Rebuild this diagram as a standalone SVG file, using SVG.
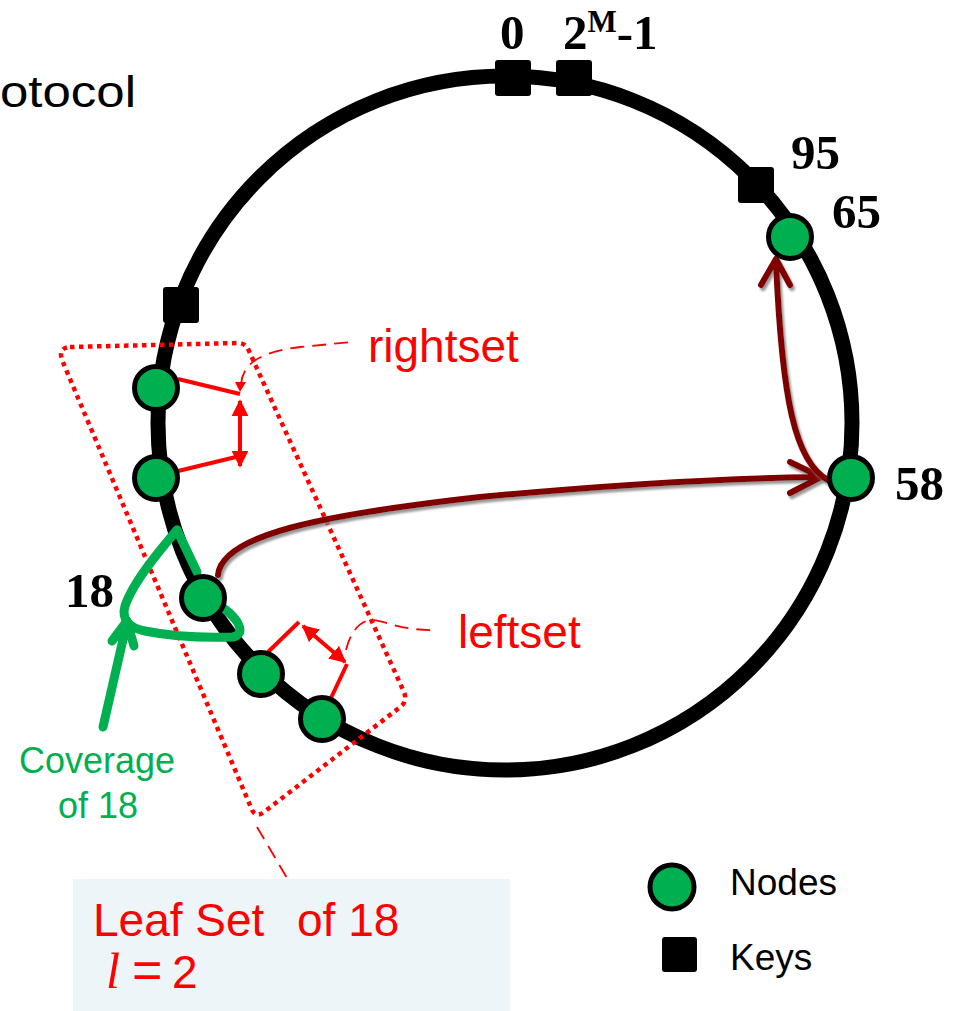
<svg xmlns="http://www.w3.org/2000/svg" width="961" height="1011" viewBox="0 0 961 1011">
  <style>
    .ring { fill: none; stroke: #000; stroke-width: 15; }
    .key { fill: #000; }
    .node { fill: #00B050; stroke: #000; stroke-width: 5; }
    .num { font-family: "Liberation Serif", "Times New Roman", serif; font-weight: bold; font-size: 49px; fill: #000; }
    .red { font-family: "Liberation Sans", Arial, sans-serif; font-size: 46px; fill: #FF0000; }
    .green { font-family: "Liberation Sans", Arial, sans-serif; font-size: 36px; fill: #00B050; }
    .label { font-family: "Liberation Sans", Arial, sans-serif; font-size: 37px; fill: #000; }
    .title { font-family: "Liberation Sans", Arial, sans-serif; font-size: 45px; fill: #000; }
    .dotted { fill: none; stroke: #FF0000; stroke-width: 4.5; stroke-dasharray: 4.5 4.5; }
    .callout { fill: none; stroke: #FF0000; stroke-width: 1.8; stroke-dasharray: 14 8; }
    .redline { fill: none; stroke: #FF0000; stroke-width: 4; }
    .cover { fill: none; stroke: #00B050; stroke-width: 9; stroke-linecap: round; stroke-linejoin: round; }
    .route { fill: none; stroke: #800000; stroke-width: 6; stroke-linecap: round; stroke-linejoin: round; filter: url(#shadow); }
  </style>
  <defs>
    <filter id="shadow" x="-10%" y="-10%" width="120%" height="130%">
      <feDropShadow dx="2" dy="3" stdDeviation="1" flood-color="#808080" flood-opacity="0.8"/>
    </filter>
    <marker id="tri" viewBox="0 0 10 10" refX="9" refY="5" markerWidth="4.2" markerHeight="4.2" orient="auto-start-reverse" markerUnits="strokeWidth">
      <path d="M0,0 L10,5 L0,10 Z" fill="#FF0000"/>
    </marker>
  </defs>

  <!-- partial title -->
  <text x="0" y="107" class="title" textLength="136" lengthAdjust="spacingAndGlyphs">otocol</text>

  <!-- identifier ring -->
  <circle class="ring" cx="505" cy="423" r="347"/>

  <!-- keys on the ring -->
  <g id="key-0"><rect class="key" x="495" y="60" width="36" height="36" rx="3"/></g>
  <g id="key-max"><rect class="key" x="556" y="60" width="36" height="36" rx="3"/></g>
  <g id="key-95"><rect class="key" x="738" y="167" width="36" height="36" rx="3"/></g>
  <g id="key-left"><rect class="key" x="163" y="287" width="36" height="36" rx="3"/></g>

  <!-- leaf set boundary -->
  <path class="dotted" d="M 70 347 L 238 343 Q 246 343 249 351 L 404 692 Q 408 702 399 708 L 264 812 Q 256 818 252 810 L 62 360 Q 58 348 70 347 Z"/>

  <!-- coverage of node 18 -->
  <g id="coverage">
    <path class="cover" stroke-width="7" d="M 177 530 L 197 572"/>
    <path class="cover" d="M 177 530 C 160 550 133 582 125 606 C 121 620 130 628 145 631 C 170 636 205 638 233 637 C 246 634 240 620 222 607"/>
    <path class="cover" stroke-width="5" d="M 103 727 L 127 622 M 112 641 L 127 621 L 134 646"/>
  </g>

  <!-- connectors -->
  <g id="connectors">
    <!-- rightset -->
    <path class="redline" d="M 178 379 L 240 394"/>
    <path class="redline" d="M 178 471 L 240 456"/>
    <path class="redline" d="M 240 401 L 240 466" marker-start="url(#tri)" marker-end="url(#tri)"/>
    <path class="callout" d="M 241 384 C 243 362 262 352 300 347 L 352 342"/>
    <path d="M 235 382 L 246 382 L 240 392 Z" fill="#FF0000"/>
    <!-- leftset -->
    <path class="redline" d="M 268 652 L 299 622"/>
    <path class="redline" d="M 347 664 L 331 698"/>
    <path class="redline" d="M 303 626 L 345 662" marker-start="url(#tri)" marker-end="url(#tri)"/>
    <path class="callout" d="M 346 650 C 350 634 358 622 370 620 C 385 620 400 631 437 630"/>
    <!-- leaf set note -->
    <path class="callout" d="M 257 827 L 287 878"/>
    <!-- routing path 18 -> 58 -> 65 -->
    <path class="route" d="M 218 575 C 222 535 320 515 480 497 C 620 484 740 478 820 477 M 790 462 L 821 477 L 790 493"/>
    <path class="route" d="M 828 480 C 795 462 782 400 776 262 M 761 285 L 776 259 L 790 285"/>
  </g>

  <!-- nodes -->
  <g id="node-65"><circle class="node" cx="790" cy="237" r="21.5"/></g>
  <g id="node-58"><circle class="node" cx="851" cy="478" r="21.5"/></g>
  <g id="node-r2"><circle class="node" cx="156" cy="388" r="21.5"/></g>
  <g id="node-r1"><circle class="node" cx="156" cy="478" r="21.5"/></g>
  <g id="node-18"><circle class="node" cx="203" cy="598" r="21.5"/></g>
  <g id="node-l1"><circle class="node" cx="261" cy="674" r="21.5"/></g>
  <g id="node-l2"><circle class="node" cx="322" cy="719" r="21.5"/></g>

  <!-- ids -->
  <text class="num" x="500" y="49">0</text>
  <text class="num" x="563" y="49">2<tspan font-size="31" dy="-17">M</tspan><tspan dy="17">-1</tspan></text>
  <text class="num" x="791" y="169">95</text>
  <text class="num" x="832" y="228">65</text>
  <text class="num" x="895" y="500">58</text>
  <text class="num" x="65" y="607">18</text>

  <!-- annotations -->
  <text class="red" x="368" y="362">rightset</text>
  <text class="red" x="458" y="648">leftset</text>
  <text class="green" x="97" y="773" text-anchor="middle">Coverage</text>
  <text class="green" x="98" y="818" text-anchor="middle">of 18</text>

  <g id="leafset-note">
    <rect x="73" y="879" width="437" height="132" fill="#EEF5F8"/>
    <text class="red" x="93" y="936">Leaf Set<tspan x="297">of 18</tspan></text>
    <text class="red" y="988"><tspan x="106" font-size="50" font-family="Liberation Serif, serif" font-style="italic">l</tspan><tspan x="132" font-size="52">=</tspan><tspan x="172">2</tspan></text>
  </g>

  <!-- legend -->
  <g id="legend">
    <circle class="node" cx="672" cy="887" r="22"/>
    <text class="label" x="730" y="895">Nodes</text>
    <rect class="key" x="662" y="937" width="35" height="35" rx="3"/>
    <text class="label" x="730" y="970">Keys</text>
  </g>
</svg>
